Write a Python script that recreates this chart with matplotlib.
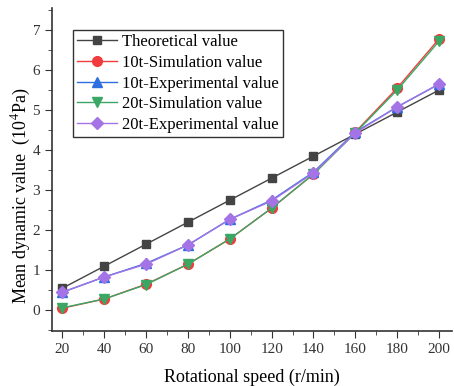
import matplotlib
matplotlib.use('Agg')
import matplotlib.pyplot as plt
from matplotlib.ticker import MultipleLocator

plt.rcParams['font.family'] = ['Liberation Serif', 'DejaVu Serif']
plt.rcParams['mathtext.fontset'] = 'stix'

# dados
rotacao = [20, 40, 60, 80, 100, 120, 140, 160, 180, 200]
teorico = [0.55, 1.10, 1.65, 2.20, 2.75, 3.30, 3.85, 4.40, 4.95, 5.50]
sim_10t = [0.05, 0.28, 0.65, 1.15, 1.78, 2.55, 3.40, 4.45, 5.55, 6.78]
exp_10t = [0.45, 0.83, 1.17, 1.63, 2.27, 2.75, 3.45, 4.45, 5.08, 5.65]
sim_20t = [0.06, 0.28, 0.64, 1.15, 1.78, 2.55, 3.40, 4.43, 5.50, 6.72]
exp_20t = [0.45, 0.83, 1.15, 1.63, 2.27, 2.73, 3.43, 4.43, 5.08, 5.65]

fig = plt.figure(figsize=(4.54, 3.86), dpi=100)
ax = fig.add_axes([0.1145, 0.1425, 0.88, 0.8365])

ms = 7
ax.plot(rotacao, teorico, color='#444444', marker='s', ms=6, lw=1, label='Theoretical value')
ax.plot(rotacao, sim_10t, color='#f03c3c', marker='o', ms=ms, lw=1, label='10t-Simulation value')
ax.plot(rotacao, exp_10t, color='#2d6fe0', marker='^', ms=ms, lw=1, label='10t-Experimental value')
ax.plot(rotacao, sim_20t, color='#3aa864', marker='v', ms=ms, lw=1, label='20t-Simulation value')
ax.plot(rotacao, exp_20t, color='#a473e6', marker='D', ms=6, lw=1, label='20t-Experimental value')

ax.set_xlim(15, 206)
ax.set_ylim(-0.52, 7.55)
ax.set_xticks(rotacao)
ax.xaxis.set_minor_locator(MultipleLocator(10))
ax.yaxis.set_major_locator(MultipleLocator(1))
ax.yaxis.set_minor_locator(MultipleLocator(0.5))
ax.tick_params(which='both', direction='out', labelsize=11, colors='#333333')
ax.tick_params(which='major', length=5)
ax.tick_params(which='minor', length=3)

for lado in ['top', 'right']:
    ax.spines[lado].set_visible(False)
for lado in ['left', 'bottom']:
    ax.spines[lado].set_color('#333333')
    ax.spines[lado].set_linewidth(1.2)

ax.set_xlabel('Rotational speed (r/min)', fontsize=13, labelpad=9)
ax.set_ylabel('Mean dynamic value  (10$^4$Pa)', fontsize=13)
ax.yaxis.set_label_coords(-0.047, 0.42)

leg = ax.legend(loc='upper left', bbox_to_anchor=(0.052, 0.932), fontsize=12,
                frameon=True, fancybox=False, edgecolor='black',
                handlelength=2.4, handletextpad=0.3, borderpad=0.25,
                labelspacing=0.28, borderaxespad=0)
leg.get_frame().set_linewidth(1)

fig.savefig('out.png', dpi=100)
plt.close()
